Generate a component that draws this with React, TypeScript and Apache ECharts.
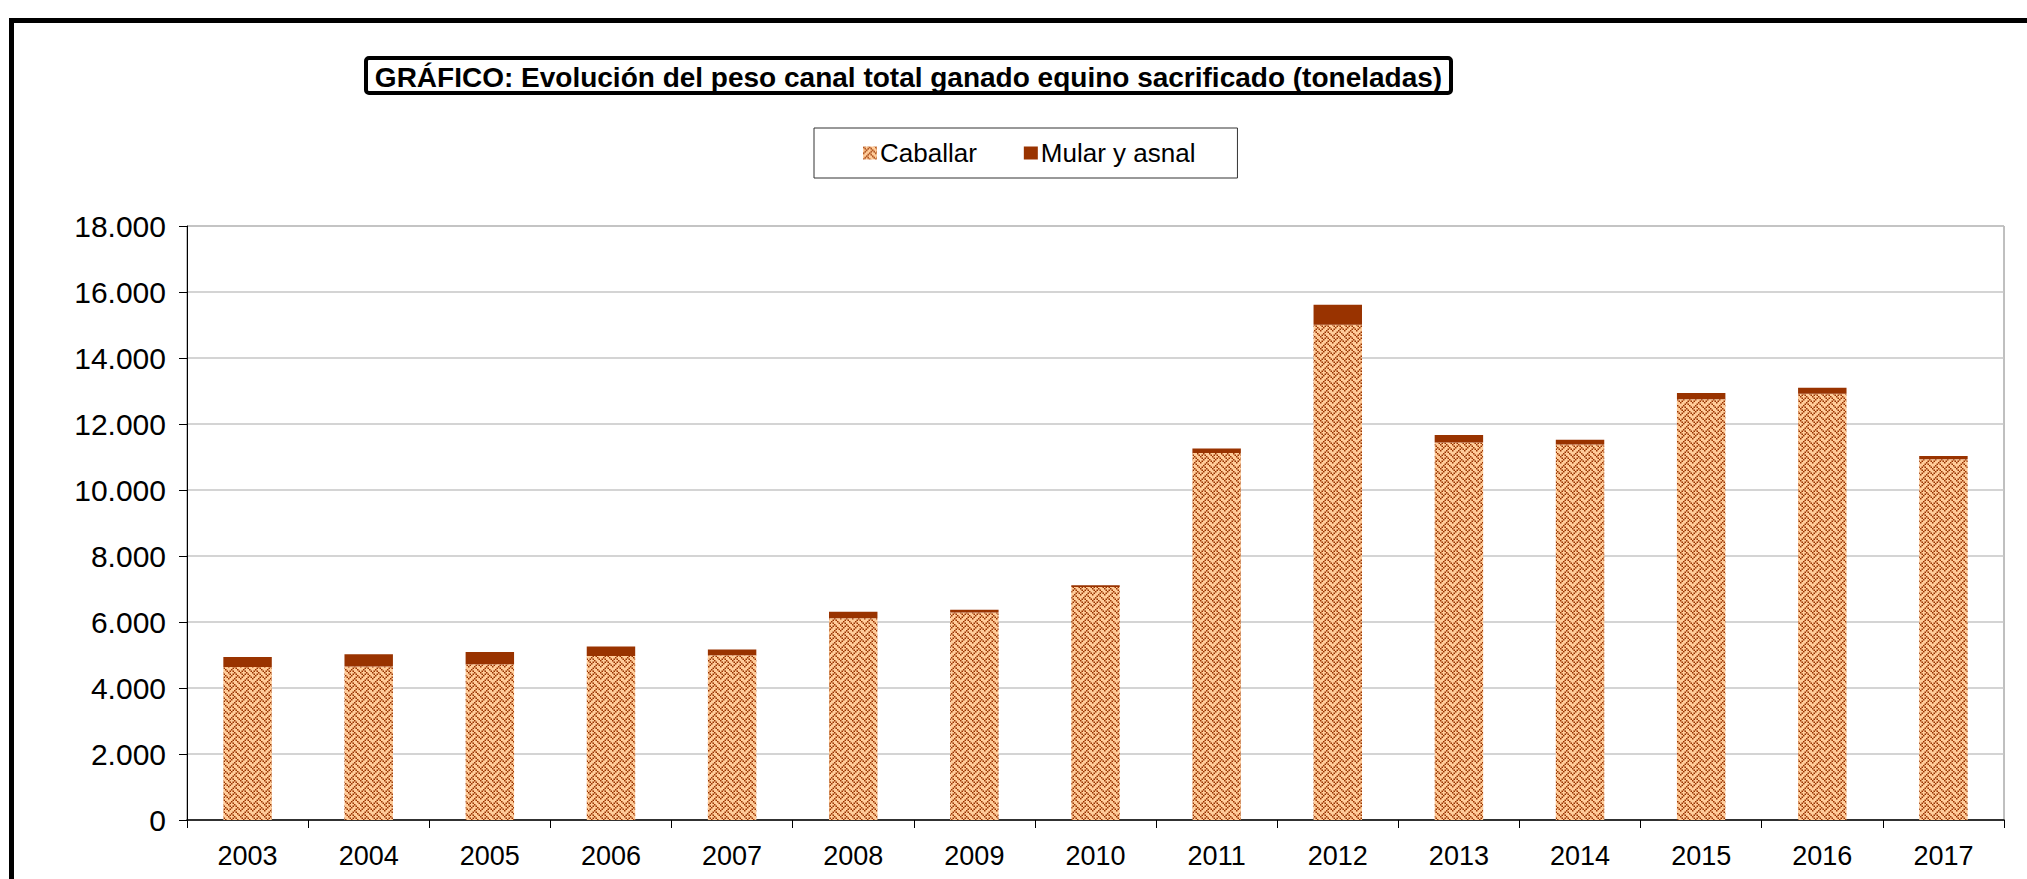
import React, { useEffect, useRef } from "react";
import * as echarts from "echarts";

const YEARS = ["2003", "2004", "2005", "2006", "2007", "2008", "2009", "2010", "2011", "2012", "2013", "2014", "2015", "2016", "2017"];
const CABALLAR = [4640, 4650, 4720, 4970, 4990, 6110, 6290, 7060, 11120, 15010, 11440, 11380, 12750, 12920, 10930];
const MULAR = [300, 370, 370, 290, 180, 200, 80, 50, 140, 600, 230, 140, 190, 180, 100];
const SERIES_NAMES = ["Caballar", "Mular y asnal"];
const TITLE = "GRÁFICO: Evolución del peso canal total ganado equino sacrificado (toneladas)";
const Y_MAX = 18000;
const Y_STEP = 2000;

const WEAVE = [0x88, 0x54, 0x22, 0x45, 0x88, 0x14, 0x22, 0x51];

function makePattern(): HTMLCanvasElement {
  const s = 1.5;
  const size = 8 * s;
  const c = document.createElement("canvas");
  c.width = size;
  c.height = size;
  const ctx = c.getContext("2d")!;
  ctx.fillStyle = "#FFCC99";
  ctx.fillRect(0, 0, size, size);
  ctx.fillStyle = "#993300";
  WEAVE.forEach((row, y) => {
    for (let x = 0; x < 8; x++) {
      if ((row >> (7 - x)) & 1) ctx.fillRect(x * s, y * s, s, s);
    }
  });
  return c;
}

function fmt(v: number): string {
  return String(v).replace(/\B(?=(\d{3})+(?!\d))/g, ".");
}

export default function App() {
  const ref = useRef<HTMLDivElement>(null);
  useEffect(() => {
    if (!ref.current) return;
    const chart = echarts.init(ref.current, null, { renderer: "svg" });
    const canvas = makePattern();
    const pattern: any = { image: canvas, repeat: "repeat", imageWidth: canvas.width, imageHeight: canvas.height };
    const font = "'Liberation Sans', Arial, sans-serif";
    chart.setOption({
      animation: false,
      backgroundColor: "#ffffff",
      textStyle: { fontFamily: font },
      graphic: [
        {
          type: "rect",
          shape: { x: 11.5, y: 20.5, width: 2200, height: 1000 },
          style: { fill: "none", stroke: "#000000", lineWidth: 5 },
          z: 100,
        },
        {
          type: "group",
          z: 100,
          children: [
            {
              type: "rect",
              shape: { x: 366, y: 58, width: 1085, height: 35, r: 3 },
              style: { fill: "#ffffff", stroke: "#000000", lineWidth: 4 },
            },
            {
              type: "text",
              x: 908.5,
              y: 77,
              style: {
                text: TITLE,
                fontSize: 28,
                fontWeight: "bold",
                fontFamily: font,
                fill: "#000000",
                textAlign: "center",
                textVerticalAlign: "middle",
              },
            },
          ],
        },
      ],
      legend: {
        left: 814,
        top: 128,
        padding: [12, 42, 12, 49],
        itemGap: 47,
        itemWidth: 14,
        itemHeight: 13,
        borderColor: "#333333",
        borderWidth: 1,
        selectedMode: false,
        icon: "rect",
        textStyle: { fontSize: 26, lineHeight: 26, color: "#000000", fontFamily: font, padding: [0, 0, 0, -2] },
        data: SERIES_NAMES,
      },
      grid: {
        left: 187,
        right: 23,
        top: 226,
        bottom: 59,
        show: true,
        borderColor: "#808080",
        borderWidth: 1,
        backgroundColor: "transparent",
      },
      xAxis: {
        type: "category",
        data: YEARS,
        axisLine: { lineStyle: { color: "#000000", width: 1.5 } },
        axisTick: { show: true, length: 8, lineStyle: { color: "#000000", width: 1 } },
        axisLabel: { fontSize: 27, color: "#000000", margin: 22, fontFamily: font },
        splitLine: { show: false },
      },
      yAxis: {
        type: "value",
        min: 0,
        max: Y_MAX,
        interval: Y_STEP,
        axisLine: { show: true, lineStyle: { color: "#000000", width: 1 } },
        axisTick: { show: true, length: 8, lineStyle: { color: "#000000", width: 1 } },
        axisLabel: { fontSize: 30, color: "#000000", margin: 21, fontFamily: font, formatter: (v: number) => fmt(v) },
        splitLine: { show: true, lineStyle: { color: "#c6c6c6", width: 1.5 } },
      },
      series: [
        {
          name: SERIES_NAMES[0],
          type: "bar",
          stack: "total",
          barWidth: "40%",
          data: CABALLAR,
          itemStyle: { color: pattern },
        },
        {
          name: SERIES_NAMES[1],
          type: "bar",
          stack: "total",
          barWidth: "40%",
          data: MULAR,
          itemStyle: { color: "#993300" },
        },
      ],
    });
    return () => chart.dispose();
  }, []);
  return <div ref={ref} style={{ position: "fixed", left: 0, top: 0, width: 2027, height: 879 }} />;
}
